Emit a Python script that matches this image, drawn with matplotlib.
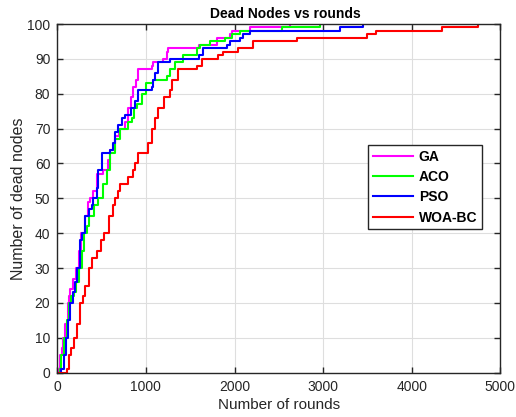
import matplotlib
matplotlib.use("Agg")
import matplotlib.pyplot as plt

# ---- data (rounds at which the dead-node count steps up, and the new count) ----
ga_rounds = [0, 23, 34, 50, 68, 90, 117, 136, 147, 180, 211, 249, 268, 316, 343, 369, 400, 445, 519, 576, 600, 652,
             700, 764, 801, 832, 858, 889, 915, 1066, 1084, 1197, 1235, 1253, 1600, 1800, 1950, 1975, 2175, 2630]
ga_dead = [0, 1, 5, 7, 10, 14, 20, 22, 24, 27, 30, 35, 40, 45, 49, 50, 52, 57, 58, 61, 64, 68,
           70, 72, 76, 79, 82, 84, 87, 88, 89, 90, 92, 93, 94, 96, 97, 98, 99, 100]

aco_rounds = [0, 30, 45, 79, 105, 128, 160, 192, 215, 242, 275, 305, 330, 361, 414, 463, 519, 557, 595, 652, 708, 801,
              840, 870, 900, 953, 1001, 1084, 1235, 1272, 1329, 1423, 1581, 1611, 1724, 1895, 1975, 2065, 2536, 2966]
aco_dead = [0, 1, 5, 10, 15, 20, 22, 23, 26, 30, 35, 40, 42, 45, 48, 50, 54, 58, 63, 67, 70, 72,
            73, 76, 77, 80, 83, 84, 85, 87, 89, 91, 93, 94, 95, 96, 97, 98, 99, 100]

pso_rounds = [0, 42, 70, 98, 125, 147, 174, 195, 219, 256, 275, 316, 360, 388, 406, 445, 463, 501, 595, 633, 652,
              689, 727, 764, 832, 877, 915, 1066, 1084, 1100, 1141, 1272, 1600, 1648, 1915, 1950, 2065, 2100, 2175, 3195, 3455]
pso_dead = [0, 1, 5, 10, 15, 20, 23, 26, 30, 38, 40, 45, 47, 48, 50, 53, 58, 63, 64, 66, 69,
            71, 73, 74, 76, 78, 81, 82, 84, 86, 89, 90, 91, 93, 94, 95, 96, 97, 98, 99, 100]

woa_rounds = [0, 110, 128, 155, 192, 219, 260, 294, 313, 361, 388, 445, 490, 531, 580, 634, 652, 689, 708, 801, 851, 877,
              915, 1027, 1066, 1103, 1141, 1200, 1272, 1300, 1366, 1573, 1630, 1815, 1875, 2040, 2210, 2700, 3490, 3600, 4345, 4750]
woa_dead = [0, 1, 5, 7, 10, 14, 20, 22, 25, 30, 33, 35, 38, 40, 45, 48, 50, 52, 54, 56, 58, 60,
            63, 66, 70, 73, 76, 79, 81, 84, 87, 88, 90, 91, 92, 93, 95, 96, 97, 98, 99, 100]

labels = ["GA", "ACO", "PSO", "WOA-BC"]
colors = ["#ff00ff", "#00ff00", "#0000ff", "#ff0000"]
x_ticks = [0, 1000, 2000, 3000, 4000, 5000]
y_ticks = list(range(0, 101, 10))

plt.rcParams['font.family'] = ['Liberation Sans', 'DejaVu Sans']

fig = plt.figure(figsize=(5.16, 4.17), dpi=100)
ax = fig.add_axes([57.3 / 516, (417 - 372.7) / 417, (500.3 - 57.3) / 516, (372.7 - 24) / 417])

series = [(ga_rounds, ga_dead), (aco_rounds, aco_dead), (pso_rounds, pso_dead), (woa_rounds, woa_dead)]
for (xs, ys), lab, col in zip(series, labels, colors):
    ax.plot(xs, ys, drawstyle='steps-post', color=col, lw=1.5, label=lab)

dark = (0.15, 0.15, 0.15)
ax.set_xlim(0, 5000)
ax.set_ylim(0, 100)
ax.set_xticks(x_ticks)
ax.set_yticks(y_ticks)
ax.grid(True, color=(0.87, 0.87, 0.87), lw=0.8)
ax.set_axisbelow(True)
ax.tick_params(direction='in', top=True, right=True, length=4, width=1.0,
               colors=dark, labelsize=10, labelcolor=dark, pad=5)
for sp in ax.spines.values():
    sp.set_color(dark)
    sp.set_linewidth(1.0)

ax.set_xlabel("Number of rounds", fontsize=11, color=dark, labelpad=3)
ax.set_ylabel("Number of dead nodes", fontsize=11.5, color=dark, labelpad=1)
ax.set_title("Dead Nodes vs rounds", fontsize=10, fontweight='bold', color='black', pad=4, x=0.514)

leg = ax.legend(loc='upper right', bbox_to_anchor=(0.959, 0.653), borderaxespad=0,
                prop={'weight': 'bold', 'size': 10}, handlelength=2.9, handletextpad=0.4,
                labelspacing=0.45, fancybox=False, framealpha=1, edgecolor=dark,
                borderpad=0.35)
leg.get_frame().set_linewidth(1.0)

fig.savefig("out.png", dpi=100)
